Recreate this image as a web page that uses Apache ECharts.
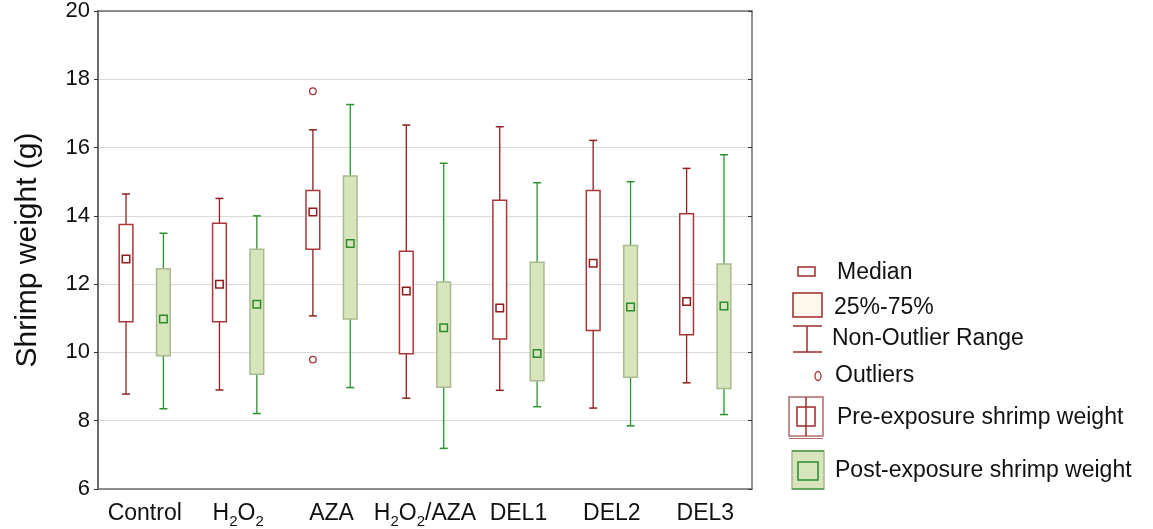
<!DOCTYPE html>
<html>
<head>
<meta charset="utf-8">
<script src="https://cdn.jsdelivr.net/npm/echarts@6/dist/echarts.min.js"></script>
<style>html,body{margin:0;padding:0;background:#fff}#c{width:1153px;height:529px}</style>
</head>
<body>
<div id="c"></div>
<script>
const categories = ['Control', 'H2O2', 'AZA', 'H2O2/AZA', 'DEL1', 'DEL2', 'DEL3'];
const yTicks = [6, 8, 10, 12, 14, 16, 18, 20];

// Pre-exposure shrimp weight (g)
const preMin    = [8.78, 8.90, 11.07, 8.66, 8.89, 8.37, 9.11];
const preQ1     = [10.90, 10.90, 13.02, 9.96, 10.39, 10.64, 10.52];
const preMedian = [12.74, 12.00, 14.11, 11.80, 11.30, 12.61, 11.49];
const preQ3     = [13.75, 13.78, 14.74, 12.96, 14.46, 14.74, 14.06];
const preMax    = [14.64, 14.51, 16.52, 16.66, 16.61, 16.21, 15.39];
const preOutlierCat = [2, 2];
const preOutlierVal = [9.79, 17.65];

// Post-exposure shrimp weight (g)
const postMin    = [8.35, 8.21, 8.97, 7.19, 8.41, 7.85, 8.18];
const postQ1     = [9.90, 9.36, 10.98, 8.98, 9.17, 9.27, 8.94];
const postMedian = [10.98, 11.41, 13.19, 10.72, 9.97, 11.33, 11.36];
const postQ3     = [12.45, 13.02, 15.17, 12.06, 12.64, 13.13, 12.59];
const postMax    = [13.49, 14.00, 17.26, 15.54, 14.97, 15.00, 15.79];

const FONT = 'Liberation Sans, Arial, sans-serif';
const AXIS_COLOR = '#6b6b6b';

function boxRender(side, st) {
  return function (params, api) {
    const i = api.value(0);
    const band = api.size([1, 0])[0];
    const cx = api.coord([i, 0])[0] + side * 0.2 * band;
    const y = v => api.coord([i, v])[1];
    const yMin = y(api.value(1)), yQ1 = y(api.value(2)), yMed = y(api.value(3)),
          yQ3 = y(api.value(4)), yMax = y(api.value(5));
    const bw = 0.147 * band, cap = 4, ms = 7.5;
    return {
      type: 'group',
      children: [
        { type: 'line', shape: { x1: cx, y1: yMax, x2: cx, y2: yMin }, style: { stroke: st.whisker, lineWidth: 1.3 } },
        { type: 'line', shape: { x1: cx - cap, y1: yMax, x2: cx + cap, y2: yMax }, style: { stroke: st.whisker, lineWidth: 1.5 } },
        { type: 'line', shape: { x1: cx - cap, y1: yMin, x2: cx + cap, y2: yMin }, style: { stroke: st.whisker, lineWidth: 1.5 } },
        { type: 'rect', shape: { x: cx - bw / 2, y: yQ3, width: bw, height: yQ1 - yQ3 }, style: { fill: st.boxFill, stroke: st.boxStroke, lineWidth: 1.5 } },
        { type: 'rect', shape: { x: cx - ms / 2, y: yMed - ms / 2, width: ms, height: ms }, style: { fill: st.medFill, stroke: st.medStroke, lineWidth: 1.5 } }
      ]
    };
  };
}

function outlierRender(params, api) {
  const i = api.value(0);
  const band = api.size([1, 0])[0];
  const p = api.coord([i, api.value(1)]);
  return { type: 'circle', shape: { cx: p[0] - 0.2 * band, cy: p[1], r: 3.3 }, style: { fill: '#fff', stroke: '#a83030', lineWidth: 1.3 } };
}

const preData = categories.map((c, i) => [i, preMin[i], preQ1[i], preMedian[i], preQ3[i], preMax[i]]);
const postData = categories.map((c, i) => [i, postMin[i], postQ1[i], postMedian[i], postQ3[i], postMax[i]]);
const outlierData = preOutlierCat.map((c, i) => [c, preOutlierVal[i]]);

function catLabel(v) {
  const m = v.match(/^H2O2(.*)$/);
  if (m) return '{n|H}{s|2}{n|O}{s|2}' + (m[1] ? '{n|' + m[1] + '}' : '');
  return '{n|' + v + '}';
}

const LEG_RED = '#9c2a2a';
const LEG_TXT = { fontFamily: FONT, fontSize: 23, fill: '#111', verticalAlign: 'middle', align: 'left' };

const chart = echarts.init(document.getElementById('c'), null, { renderer: 'canvas' });
chart.setOption({
  animation: false,
  backgroundColor: '#fff',
  grid: { left: 98, top: 9, width: 654, bottom: 40, containLabel: false },
  xAxis: [
    {
      type: 'category', data: categories, position: 'bottom', boundaryGap: true,
      axisLine: { lineStyle: { color: AXIS_COLOR, width: 1.5 } },
      axisTick: { inside: true, alignWithLabel: true, length: 5, lineStyle: { color: '#333' } },
      axisLabel: {
        margin: 10, interval: 0, color: '#111', formatter: catLabel,
        rich: {
          n: { fontFamily: FONT, fontSize: 23, color: '#111', lineHeight: 30 },
          s: { fontFamily: FONT, fontSize: 15, color: '#111', lineHeight: 14, verticalAlign: 'bottom' }
        }
      },
      splitLine: { show: false }
    },
    {
      type: 'category', data: categories, position: 'top', boundaryGap: true,
      axisLine: { lineStyle: { color: AXIS_COLOR, width: 1.5 } },
      axisTick: { inside: true, alignWithLabel: true, length: 5, lineStyle: { color: '#333' } },
      axisLabel: { show: false }
    }
  ],
  yAxis: [
    {
      type: 'value', min: yTicks[0], max: yTicks[yTicks.length - 1], interval: 2,
      name: 'Shrimp weight (g)', nameLocation: 'middle', nameGap: 55, nameRotate: 90,
      nameTextStyle: { fontFamily: FONT, fontSize: 30, color: '#111' },
      axisLine: { show: true, lineStyle: { color: AXIS_COLOR, width: 2 } },
      axisTick: { show: true, inside: false, length: 4, lineStyle: { color: '#333' } },
      axisLabel: { margin: 8, fontFamily: FONT, fontSize: 22, color: '#111' },
      splitLine: { show: true, lineStyle: { color: '#d9d9d9', width: 1.2 } }
    },
    {
      type: 'value', min: yTicks[0], max: yTicks[yTicks.length - 1], interval: 2, position: 'right',
      axisLine: { show: true, lineStyle: { color: AXIS_COLOR, width: 1.5 } },
      axisTick: { show: true, inside: true, length: 4, lineStyle: { color: '#333' } },
      axisLabel: { show: false },
      splitLine: { show: false }
    }
  ],
  series: [
    {
      name: 'Pre-exposure shrimp weight', type: 'custom', xAxisIndex: 0, yAxisIndex: 0,
      renderItem: boxRender(-1, { whisker: '#8f1d1d', boxFill: '#ffffff', boxStroke: '#a83838', medFill: '#ffffff', medStroke: '#8f1d1d' }),
      encode: { x: 0, y: [1, 2, 3, 4, 5] }, data: preData, z: 3
    },
    {
      name: 'Post-exposure shrimp weight', type: 'custom', xAxisIndex: 0, yAxisIndex: 0,
      renderItem: boxRender(1, { whisker: '#25952a', boxFill: '#d8e4bc', boxStroke: '#a9bb8e', medFill: '#d8e4bc', medStroke: '#2a8c2a' }),
      encode: { x: 0, y: [1, 2, 3, 4, 5] }, data: postData, z: 3
    },
    {
      name: 'Outliers', type: 'custom', xAxisIndex: 0, yAxisIndex: 0,
      renderItem: outlierRender, encode: { x: 0, y: 1 }, data: outlierData, z: 4
    }
  ],
  graphic: [
    // Median
    { type: 'rect', shape: { x: 798, y: 267, width: 17, height: 9 }, style: { fill: '#fff', stroke: LEG_RED, lineWidth: 1.5 } },
    { type: 'text', x: 837, y: 273, style: Object.assign({ text: 'Median' }, LEG_TXT) },
    // 25%-75%
    { type: 'rect', shape: { x: 793, y: 293, width: 29, height: 24 }, style: { fill: '#fff8ec', stroke: LEG_RED, lineWidth: 1.5 } },
    { type: 'text', x: 834, y: 308, style: Object.assign({ text: '25%-75%' }, LEG_TXT) },
    // Non-outlier range
    { type: 'line', shape: { x1: 793, y1: 326, x2: 822, y2: 326 }, style: { stroke: LEG_RED, lineWidth: 1.5 } },
    { type: 'line', shape: { x1: 793, y1: 352, x2: 822, y2: 352 }, style: { stroke: LEG_RED, lineWidth: 1.5 } },
    { type: 'line', shape: { x1: 807, y1: 326, x2: 807, y2: 352 }, style: { stroke: LEG_RED, lineWidth: 1.5 } },
    { type: 'text', x: 832, y: 339, style: Object.assign({ text: 'Non-Outlier Range' }, LEG_TXT) },
    // Outliers
    { type: 'ellipse', shape: { cx: 818, cy: 376, rx: 3, ry: 4.5 }, style: { fill: '#fff', stroke: '#a83030', lineWidth: 1.3 } },
    { type: 'text', x: 835, y: 376, style: Object.assign({ text: 'Outliers' }, LEG_TXT) },
    // Pre-exposure
    { type: 'rect', shape: { x: 789, y: 397, width: 34, height: 39 }, style: { fill: '#fff', stroke: '#b26a6a', lineWidth: 1.5 } },
    { type: 'line', shape: { x1: 789, y1: 438.5, x2: 823, y2: 438.5 }, style: { stroke: '#b26a6a', lineWidth: 1.2 } },
    { type: 'rect', shape: { x: 797, y: 407, width: 18, height: 19 }, style: { fill: 'none', stroke: LEG_RED, lineWidth: 1.5 } },
    { type: 'line', shape: { x1: 806, y1: 397, x2: 806, y2: 436 }, style: { stroke: LEG_RED, lineWidth: 1.5 } },
    { type: 'text', x: 837, y: 418, style: Object.assign({ text: 'Pre-exposure shrimp weight' }, LEG_TXT) },
    // Post-exposure
    { type: 'rect', shape: { x: 792, y: 451, width: 32, height: 38 }, style: { fill: '#d8e4bc', stroke: '#a9bb8e', lineWidth: 1.5 } },
    { type: 'line', shape: { x1: 792, y1: 451, x2: 824, y2: 451 }, style: { stroke: '#4a9a4a', lineWidth: 1.5 } },
    { type: 'line', shape: { x1: 792, y1: 489, x2: 824, y2: 489 }, style: { stroke: '#4a9a4a', lineWidth: 1.5 } },
    { type: 'rect', shape: { x: 798, y: 462, width: 20, height: 18 }, style: { fill: '#d8e4bc', stroke: '#2a8c2a', lineWidth: 1.5 } },
    { type: 'text', x: 835, y: 471, style: Object.assign({ text: 'Post-exposure shrimp weight' }, LEG_TXT) }
  ]
});
</script>
</body>
</html>
